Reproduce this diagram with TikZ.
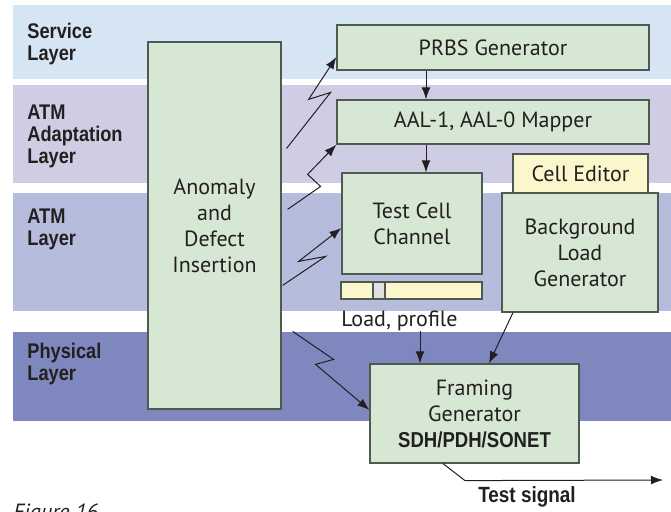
\documentclass[tikz,border=0pt]{standalone}
\usepackage{fontspec}
\setmainfont{PT Sans}
\newfontfamily\labelfont[FakeStretch=0.86]{Liberation Sans}
\usetikzlibrary{arrows.meta}
\definecolor{servicecol}{RGB}{214,229,243}
\definecolor{aalcol}{RGB}{207,205,227}
\definecolor{atmcol}{RGB}{182,188,220}
\definecolor{physcol}{RGB}{126,136,190}
\definecolor{boxgreen}{RGB}{214,232,212}
\definecolor{editorcol}{RGB}{252,246,204}
\definecolor{edgecol}{RGB}{80,88,82}
\definecolor{textcol}{RGB}{35,31,32}
\begin{document}
\begin{tikzpicture}[%
            x=0.5pt, y=-0.5pt,
            layertext/.style={anchor=west, align=left, inner sep=0pt, text=textcol,
                font=\labelfont\bfseries\fontsize{10.6}{11}\selectfont},
            block/.style={draw=edgecol, line width=0.6pt, fill=boxgreen, align=center,
                inner sep=0pt, text=textcol, font=\fontsize{11}{13}\selectfont},
            plaintext/.style={inner sep=0pt, text=textcol, font=\fontsize{11}{13}\selectfont},
            sig/.style={-{Latex[length=6pt,width=4.4pt]}, line width=0.5pt, draw=textcol}
        ]
        \useasboundingbox (0,0) rectangle (671,511);
        \begin{scope}
            \fill [servicecol] (13,5) rectangle (671,79);
            \fill [aalcol] (13,85) rectangle (671,183);
            \fill [atmcol] (13,193) rectangle (671,311);
            \fill [physcol] (13,332) rectangle (671,421);
            \node at (27,44) [layertext] (service) {Service\\Layer};
            \node at (27,136) [layertext] (aal) {ATM\\Adaptation\\Layer};
            \node at (27,229) [layertext] (atm) {ATM\\Layer};
            \node at (27,364) [layertext] (phys) {Physical\\Layer};
        \end{scope}
        \begin{scope}
            \node at (214.5,225.5) [block, minimum width=66.5pt, minimum height=183.5pt]
                (anomaly) {Anomaly\\and\\Defect\\Insertion};
            \node at (493,47.5) [block, minimum width=156pt, minimum height=22.5pt]
                (prbs) {PRBS Generator};
            \node at (493,122) [block, minimum width=156pt, minimum height=22pt]
                (mapper) {AAL-1, AAL-0 Mapper};
            \node at (412,223.5) [block, minimum width=70pt, minimum height=50.5pt]
                (testcell) {Test Cell\\Channel};
            \node at (580.5,173.5) [block, fill=editorcol, minimum width=67.5pt, minimum height=19.5pt]
                (editor) {Cell Editor};
            \node at (580,252.5) [block, minimum width=78pt, minimum height=59.5pt]
                (bgload) {Background\\Load\\Generator};
            \node at (474.5,413.5) [block, minimum width=104.5pt, minimum height=49.5pt]
                (framing) {Framing\\Generator\\{\labelfont\bfseries\fontsize{10.8}{13}\selectfont SDH/PDH/SONET}};
            \draw [edgecol, line width=0.6pt, fill=editorcol] (341,282) rectangle (482,299);
            \draw [edgecol, line width=0.6pt, fill=black!12] (373,282) rectangle (385,299);
            \node at (341,321) [plaintext, anchor=west] (loadlbl) {Load, profile};
            \node at (527,497) [layertext, anchor=center, font=\labelfont\bfseries\fontsize{11}{13}\selectfont]
                (siglbl) {Test signal};
            \coordinate (sigend) at (663,480);
            \node at (13,503) [plaintext, anchor=north west, font=\itshape\fontsize{11}{13}\selectfont]
                (figlbl) {Figure 16};
        \end{scope}
        \draw [sig] ([xshift=-33.5pt]prbs.south) -- ([xshift=-33.5pt]mapper.north);
        \draw [sig] ([xshift=-33.5pt]mapper.south) -- ([xshift=-33.5pt]mapper.south |- testcell.north);
        \draw [sig] ([xshift=-27.25pt]framing.north |- loadlbl.south) -- ([xshift=-27.25pt]framing.north);
        \draw [sig] ([xshift=-33.5pt]bgload.south) -- ([xshift=7.25pt]framing.north);
        \draw [sig] ([xshift=-15.75pt]framing.south) -- ++(22,17) -- (sigend);
        \draw [sig] ([xshift=2.5pt,yshift=-53.5pt]anomaly.north east) -- ++(44,-56) -- ++(-22,7)
              -- ([yshift=-4.75pt]prbs.west);
        \draw [sig] ([xshift=3pt,yshift=-84pt]anomaly.north east) -- ++(33,-23) -- ++(-13,-12)
              -- (mapper.south west);
        \draw [sig] ([xshift=0.5pt,yshift=-122pt]anomaly.north east) -- ++(43,-29) -- ++(-27,5)
              -- ([yshift=-2.25pt]testcell.west);
        \draw [sig] ([xshift=5.5pt,yshift=-145pt]anomaly.north east) -- ++(41,28) -- ++(-18,5)
              -- ([yshift=1.75pt]framing.west);
    \end{tikzpicture}
\end{document}
